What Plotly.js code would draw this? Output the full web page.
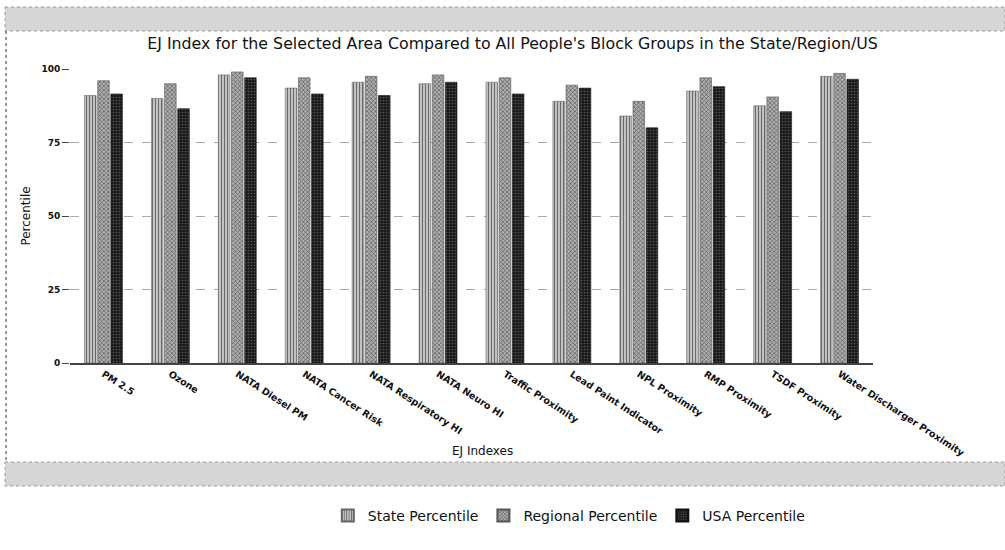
<!DOCTYPE html>
<html>
<head>
<meta charset="utf-8">
<script src="https://cdn.plot.ly/plotly-3.0.1.min.js"></script>
<style>
html,body{margin:0;padding:0;background:#fff;}
#chart{width:1005px;height:550px;}
</style>
</head>
<body>
<div id="chart"></div>
<script>
const categories = ["PM 2.5","Ozone","NATA Diesel PM","NATA Cancer Risk","NATA Respiratory HI","NATA Neuro HI","Traffic Proximity","Lead Paint Indicator","NPL Proximity","RMP Proximity","TSDF Proximity","Water Discharger Proximity"];
const statePercentile    = [91, 90, 98, 93.5, 95.5, 95, 95.5, 89, 84, 92.5, 87.5, 97.5];
const regionalPercentile = [96, 95, 99, 97, 97.5, 98, 97, 94.5, 89, 97, 90.5, 98.5];
const usaPercentile      = [91.5, 86.5, 97, 91.5, 91, 95.5, 91.5, 93.5, 80, 94, 85.5, 96.5];
const seriesNames = ["State Percentile","Regional Percentile","USA Percentile"];
const yTicks = [0, 25, 50, 75, 100];

const fnt = "DejaVu Sans, Verdana, sans-serif";

const traces = [
  {x: categories, y: statePercentile, name: seriesNames[0], type: "bar",
   marker: {color: "#b4b4b4", line: {color: "#666", width: 0.6},
            pattern: {shape: "|", fgcolor: "#6a6a6a", bgcolor: "#c2c2c2", size: 3, solidity: 0.35}}},
  {x: categories, y: regionalPercentile, name: seriesNames[1], type: "bar",
   marker: {color: "#9a9a9a", line: {color: "#555", width: 0.6},
            pattern: {shape: "x", fgcolor: "#555", bgcolor: "#b0b0b0", size: 3, solidity: 0.4}}},
  {x: categories, y: usaPercentile, name: seriesNames[2], type: "bar",
   marker: {color: "#1e1e1e", line: {color: "#111", width: 0.6},
            pattern: {shape: ".", fgcolor: "#555", bgcolor: "#1a1a1a", size: 3, solidity: 0.25}}}
];

const layout = {
  width: 1005, height: 550,
  margin: {l: 70, r: 132, t: 69, b: 187},
  paper_bgcolor: "#fff", plot_bgcolor: "#fff",
  font: {family: fnt, color: "#111"},
  barmode: "group", bargap: 0.41, bargroupgap: 0.12,
  showlegend: true,
  title: {text: "EJ Index for the Selected Area Compared to All People's Block Groups in the State/Region/US",
          font: {family: fnt, size: 15.8, color: "#111"},
          xref: "container", x: 0.510, xanchor: "center",
          yref: "container", y: 1 - 43/550, yanchor: "middle"},
  xaxis: {
    type: "category", tickangle: 33, tickfont: {family: fnt, size: 9.5, weight: "bold", color: "#111"},
    showline: true, linecolor: "#444", linewidth: 2, ticks: "", showgrid: false,
    zeroline: false, automargin: false
  },
  yaxis: {
    range: [0, 100], tickvals: yTicks, ticktext: yTicks.map(String),
    tickfont: {family: fnt, size: 9, weight: "bold", color: "#111"},
    ticks: "outside", ticklen: 7, tickcolor: "#444",
    showgrid: true, gridcolor: "#aaa", griddash: "dash", gridwidth: 1,
    zeroline: false, showline: false, automargin: false,
    title: {text: "Percentile", font: {family: fnt, size: 12, color: "#111"}, standoff: 8}
  },
  legend: {orientation: "h", xref: "container", x: 0.566, xanchor: "center",
           yref: "container", y: 1 - 516/550, yanchor: "middle",
           font: {family: fnt, size: 14, color: "#111"}, itemwidth: 30, traceorder: "normal",
           tracegroupgap: 0, itemsizing: "constant"},
  annotations: [
    {text: "EJ Indexes", xref: "paper", x: (483-70)/803, xanchor: "center",
     yref: "paper", y: (363-451)/294, yanchor: "middle", showarrow: false,
     font: {family: fnt, size: 12, color: "#111"}}
  ],
  shapes: [
    {type: "rect", xref: "paper", yref: "paper", layer: "below",
     x0: (5-70)/803, x1: (1005-70)/803, y0: (363-7)/294, y1: (363-31)/294,
     fillcolor: "#d6d6d6", line: {color: "#9a9a9a", width: 1, dash: "dot"}},
    {type: "rect", xref: "paper", yref: "paper", layer: "below",
     x0: (5-70)/803, x1: (1005-70)/803, y0: (363-462)/294, y1: (363-486)/294,
     fillcolor: "#d6d6d6", line: {color: "#9a9a9a", width: 1, dash: "dot"}},
    {type: "line", xref: "paper", yref: "paper", layer: "below",
     x0: (6-70)/803, x1: (6-70)/803, y0: (363-31)/294, y1: (363-462)/294,
     line: {color: "#777", width: 1.5, dash: "dot"}}
  ]
};

Plotly.newPlot("chart", traces, layout, {displayModeBar: false, staticPlot: true});
</script>
</body>
</html>
